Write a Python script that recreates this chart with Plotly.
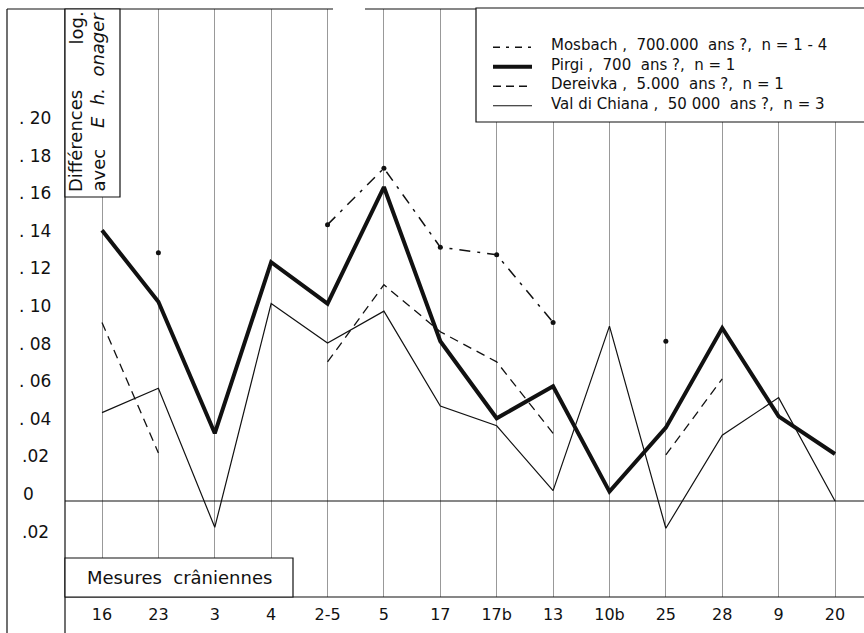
import plotly.graph_objects as go

# ---------------- data ----------------
categories = ["16", "23", "3", "4", "2-5", "5", "17", "17b", "13", "10b", "25", "28", "9", "20"]

mosbach = [None, 0.132, None, None, 0.147, 0.177, 0.135, 0.131, 0.095, None, 0.085, None, None, None]
pirgi = [0.144, 0.106, 0.036, 0.127, 0.105, 0.167, 0.085, 0.044, 0.061, 0.005, 0.039, 0.092, 0.045, 0.025]
dereivka = [0.095, 0.0255, None, None, 0.074, 0.115, 0.090, 0.074, 0.036, None, 0.0245, 0.065, None, None]
val_di_chiana = [0.047, 0.060, -0.014, 0.105, 0.084, 0.101, 0.0505, 0.040, 0.0055, 0.093, -0.0145, 0.035, 0.055, 0.0]

legend_labels = [
    "Mosbach ,  700.000  ans ?,  n = 1 - 4",
    "Pirgi ,  700  ans ?,  n = 1",
    "Dereivka ,  5.000  ans ?,  n = 1",
    "Val di Chiana ,  50 000  ans ?,  n = 3",
]

y_tick_values = [0.20, 0.18, 0.16, 0.14, 0.12, 0.10, 0.08, 0.06, 0.04, 0.02, 0.0, -0.02]
y_tick_labels = [". 20", ". 18", ". 16", ". 14", ". 12", ". 10", ". 08", ". 06", ". 04", ".02", "0", ".02"]

# ---------------- geometry (pixels) ----------------
W, H = 864, 633
TOP, BOTTOM = 9, 597          # plot area in pixels
ZERO_PX, PX_PER_UNIT = 501, 1880.0
X_FIRST, X_LAST = 102, 835

y_lo = (ZERO_PX - BOTTOM) / PX_PER_UNIT
y_hi = (ZERO_PX - TOP) / PX_PER_UNIT
span = (len(categories) - 1) * W / (X_LAST - X_FIRST)
x_lo = -X_FIRST * span / W
x_hi = x_lo + span

def px(x):
    return x / W

def py(y):
    return (BOTTOM - y) / (BOTTOM - TOP)

FONT = "DejaVu Sans"
BLACK = "#111111"

fig = go.Figure()

fig.add_trace(go.Scatter(x=categories, y=val_di_chiana, mode="lines",
                         line=dict(color=BLACK, width=1.2), connectgaps=False))
fig.add_trace(go.Scatter(x=categories, y=dereivka, mode="lines",
                         line=dict(color=BLACK, width=1.3, dash="9px,6px"), connectgaps=False))
fig.add_trace(go.Scatter(x=categories, y=pirgi, mode="lines",
                         line=dict(color=BLACK, width=4), connectgaps=False))
fig.add_trace(go.Scatter(x=categories, y=mosbach, mode="lines+markers",
                         line=dict(color=BLACK, width=1.5, dash="11px,7px,3px,7px"),
                         marker=dict(color=BLACK, size=5), connectgaps=False))

shapes = []
line_k = dict(color=BLACK, width=1.2)
# frame lines
shapes.append(dict(type="line", xref="paper", yref="paper", x0=px(7), x1=px(7), y0=py(TOP), y1=py(H), line=line_k))
shapes.append(dict(type="line", xref="paper", yref="paper", x0=px(65), x1=px(65), y0=py(TOP), y1=py(H), line=line_k))
shapes.append(dict(type="line", xref="paper", yref="paper", x0=px(7), x1=px(333), y0=py(TOP), y1=py(TOP), line=line_k))
shapes.append(dict(type="line", xref="paper", yref="paper", x0=px(365), x1=px(W), y0=py(TOP), y1=py(TOP), line=line_k))
# zero line
shapes.append(dict(type="line", xref="paper", yref="y", x0=px(65), x1=1, y0=0, y1=0, line=line_k, layer="above"))
# bottom axis line
shapes.append(dict(type="line", xref="paper", yref="paper", x0=px(65), x1=1, y0=py(BOTTOM), y1=py(BOTTOM), line=line_k, layer="above"))
# boxes (white filled to hide grid lines)
shapes.append(dict(type="rect", xref="paper", yref="paper", x0=px(65), x1=px(120), y0=py(TOP), y1=py(197),
                   fillcolor="white", line=line_k, layer="above"))
shapes.append(dict(type="rect", xref="paper", yref="paper", x0=px(65), x1=px(293), y0=py(558), y1=py(BOTTOM),
                   fillcolor="white", line=line_k, layer="above"))
shapes.append(dict(type="rect", xref="paper", yref="paper", x0=px(476), x1=px(W + 5), y0=py(8), y1=py(122),
                   fillcolor="white", line=line_k, layer="above"))

# legend: one multi-line text block + line samples
LEG_FONT = 15
LEG_CENTER = 74.5
leg_step = 1.3 * LEG_FONT
legend_rows = [LEG_CENTER + (i - 1.5) * leg_step for i in range(4)]
legend_styles = [
    dict(color=BLACK, width=1.5, dash="7px,6px,3px,6px"),
    dict(color=BLACK, width=4),
    dict(color=BLACK, width=1.3, dash="8px,5px"),
    dict(color=BLACK, width=1.2),
]
for row, st in zip(legend_rows, legend_styles):
    shapes.append(dict(type="line", xref="paper", yref="paper", x0=px(493), x1=px(532),
                       y0=py(row + 2), y1=py(row + 2), line=st, layer="above"))

annotations = []
annotations.append(dict(xref="paper", yref="paper", x=px(549), y=py(LEG_CENTER),
                        text="<br>".join(legend_labels), align="left",
                        showarrow=False, xanchor="left", yanchor="middle",
                        font=dict(family=FONT, size=LEG_FONT, color=BLACK)))

for v, lab in zip(y_tick_values, y_tick_labels):
    annotations.append(dict(xref="paper", yref="y", x=px(28 if lab == "0" else 35), y=v, yshift=7,
                            text=lab, showarrow=False, xanchor="center", yanchor="middle",
                            font=dict(family=FONT, size=17, color=BLACK)))

annotations.append(dict(xref="paper", yref="paper", x=px(179), y=py(577), text="Mesures  crâniennes",
                        showarrow=False, xanchor="center", yanchor="middle",
                        font=dict(family=FONT, size=18, color=BLACK)))
annotations.append(dict(xref="paper", yref="paper", x=px(76), y=py(194), text="Différences",
                        showarrow=False, xanchor="center", yanchor="bottom", textangle=-90,
                        font=dict(family=FONT, size=18, color=BLACK)))
annotations.append(dict(xref="paper", yref="paper", x=px(76), y=py(10), text="log.",
                        showarrow=False, xanchor="center", yanchor="top", textangle=-90,
                        font=dict(family=FONT, size=18, color=BLACK)))
annotations.append(dict(xref="paper", yref="paper", x=px(98), y=py(194), text="avec",
                        showarrow=False, xanchor="center", yanchor="bottom", textangle=-90,
                        font=dict(family=FONT, size=18, color=BLACK)))
annotations.append(dict(xref="paper", yref="paper", x=px(98), y=py(10), text="<i>E  h.  onager</i>",
                        showarrow=False, xanchor="center", yanchor="top", textangle=-90,
                        font=dict(family=FONT, size=18, color=BLACK)))

fig.update_layout(
    width=W, height=H,
    margin=dict(l=0, r=0, t=TOP, b=H - BOTTOM, pad=0),
    paper_bgcolor="white", plot_bgcolor="white",
    showlegend=False,
    shapes=shapes, annotations=annotations,
    xaxis=dict(type="category", categoryorder="array", categoryarray=categories,
               range=[x_lo, x_hi], showgrid=True, gridcolor="#999999", gridwidth=1,
               zeroline=False, showline=False, ticks="", ticklabelstandoff=6,
               tickfont=dict(family=FONT, size=16, color=BLACK), fixedrange=True),
    yaxis=dict(range=[y_lo, y_hi], showgrid=False, zeroline=False, showline=False,
               showticklabels=False, ticks="", fixedrange=True),
)

fig.write_html("out.html", config={"displayModeBar": False},
               post_script="document.body.style.margin='0px';")
